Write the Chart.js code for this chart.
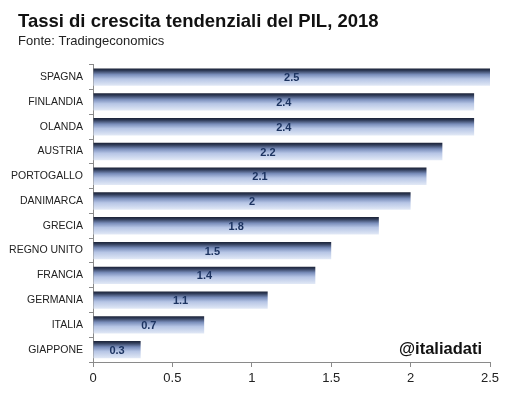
<!DOCTYPE html>
<html>
<head>
<meta charset="utf-8">
<script src="https://cdn.jsdelivr.net/npm/chart.js@4"></script>
<style>
html,body{margin:0;padding:0;background:#fff;}
#wrap{width:513px;height:394px;}
</style>
</head>
<body>
<div id="wrap"><canvas id="c" width="513" height="394"></canvas></div>
<script>
const categories = ["SPAGNA","FINLANDIA","OLANDA","AUSTRIA","PORTOGALLO","DANIMARCA","GRECIA","REGNO UNITO","FRANCIA","GERMANIA","ITALIA","GIAPPONE"];
const growthValues = [2.5, 2.4, 2.4, 2.2, 2.1, 2, 1.8, 1.5, 1.4, 1.1, 0.7, 0.3];
const xTicks = [0, 0.5, 1, 1.5, 2, 2.5];
const titleText = "Tassi di crescita tendenziali del PIL, 2018";
const subtitleText = "Fonte: Tradingeconomics";
const watermarkText = "@italiadati";

const BAR_PCT = 0.7;

function barGradient(c) {
  const chart = c.chart;
  const ys = chart.scales.y;
  if (!ys || !chart.chartArea) return '#9aaed6';
  const cy = ys.getPixelForValue(c.dataIndex);
  const band = (chart.chartArea.bottom - chart.chartArea.top) / categories.length;
  const h = band * BAR_PCT;
  const g = chart.ctx.createLinearGradient(0, cy - h/2, 0, cy + h/2);
  g.addColorStop(0, '#1b2236');
  g.addColorStop(0.12, '#2f3b58');
  g.addColorStop(0.35, '#7a8ebb');
  g.addColorStop(0.6, '#b6c5e5');
  g.addColorStop(1, '#e2e9f6');
  return g;
}

const valueLabels = {
  id: 'valueLabels',
  afterDatasetsDraw(chart) {
    const ctx = chart.ctx;
    const meta = chart.getDatasetMeta(0);
    ctx.save();
    ctx.font = 'bold 11px "Liberation Sans", Arial, sans-serif';
    ctx.fillStyle = '#1d3461';
    ctx.textAlign = 'center';
    ctx.textBaseline = 'middle';
    meta.data.forEach((bar, i) => {
      const cx = (bar.x + bar.base) / 2;
      ctx.fillText(String(growthValues[i]), cx, bar.y + 1);
    });
    ctx.restore();
  }
};

const watermark = {
  id: 'watermark',
  afterDraw(chart) {
    const ctx = chart.ctx;
    ctx.save();
    ctx.font = 'bold 16.5px "Liberation Sans", Arial, sans-serif';
    ctx.fillStyle = '#111';
    ctx.textAlign = 'right';
    ctx.textBaseline = 'middle';
    ctx.fillText(watermarkText, chart.chartArea.right - 8, 349);
    ctx.restore();
  }
};

// let the category labels extend into the left padding (no clipping)
const unclipLabels = {
  id: 'unclipLabels',
  afterLayout(chart) { chart.scales.y.left = 0; }
};

new Chart(document.getElementById('c'), {
  type: 'bar',
  data: {
    labels: categories,
    datasets: [{
      data: growthValues,
      backgroundColor: barGradient,
      borderWidth: 0,
      barPercentage: BAR_PCT,
      categoryPercentage: 1
    }]
  },
  options: {
    indexAxis: 'y',
    responsive: false,
    animation: false,
    layout: { padding: { left: 18, right: 23, top: 0, bottom: 0 } },
    plugins: {
      legend: { display: false },
      tooltip: { enabled: false },
      title: {
        display: true,
        text: titleText,
        align: 'start',
        color: '#111',
        font: { family: '"Liberation Sans", Arial, sans-serif', size: 18.5, weight: 'bold', lineHeight: 1.2 },
        padding: { top: 11, bottom: 0 }
      },
      subtitle: {
        display: true,
        text: subtitleText,
        align: 'start',
        color: '#222',
        font: { family: '"Liberation Sans", Arial, sans-serif', size: 13, lineHeight: 1.2 },
        padding: { top: 0, bottom: 16 }
      }
    },
    scales: {
      x: {
        min: 0,
        max: 2.5,
        afterBuildTicks(scale) { scale.ticks = xTicks.map(v => ({ value: v })); },
        afterFit(scale) { scale.height = 32; },
        ticks: {
          color: '#222',
          padding: 4,
          font: { family: '"Liberation Sans", Arial, sans-serif', size: 13 },
          callback: (v) => String(v)
        },
        grid: { drawOnChartArea: false, drawTicks: true, tickLength: 5, color: '#8a8a8a' },
        border: { color: '#8a8a8a', width: 1 }
      },
      y: {
        afterFit(scale) { scale.width = 75; },
        ticks: {
          color: '#222',
          padding: 6,
          font: { family: '"Liberation Sans", Arial, sans-serif', size: 10.5 }
        },
        grid: { drawOnChartArea: false, drawTicks: true, tickLength: 4, color: '#8a8a8a', offset: true },
        border: { color: '#8a8a8a', width: 1 }
      }
    }
  },
  plugins: [valueLabels, watermark, unclipLabels]
});
</script>
</body>
</html>
